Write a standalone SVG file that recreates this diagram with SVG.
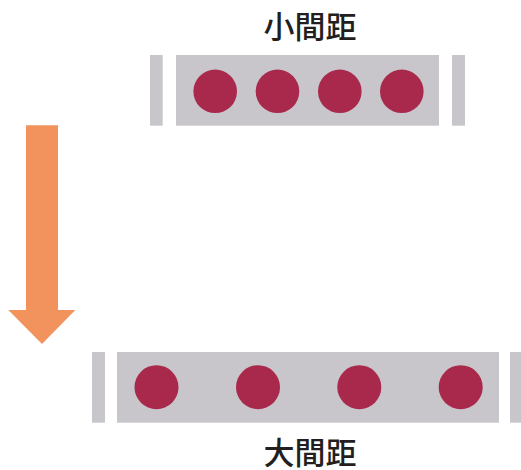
<svg xmlns="http://www.w3.org/2000/svg" width="521" height="470" viewBox="0 0 521 470">
<style>
.bar{fill:#c8c6cb}
.dot{fill:#a8294c}
.lbl{font-family:"Noto Sans CJK TC","Noto Sans CJK SC",sans-serif;font-size:31px;font-weight:500;fill:#231f20;text-anchor:middle}
</style>
<rect width="521" height="470" fill="#ffffff"/>
<g id="small-spacing">
<text class="lbl" x="310" y="38">小間距</text>
<rect class="bar" x="150" y="55" width="12.7" height="70.7"/>
<rect class="bar" x="176" y="55" width="263" height="70.7"/>
<rect class="bar" x="452" y="55" width="13" height="70.7"/>
<circle class="dot" cx="215.2" cy="91.3" r="21.8"/>
<circle class="dot" cx="277.5" cy="91.3" r="21.8"/>
<circle class="dot" cx="339.8" cy="91.3" r="21.8"/>
<circle class="dot" cx="401.8" cy="91.3" r="21.8"/>
</g>
<g id="connectors">
<polygon fill="#f2935e" points="26,125.3 58,125.3 58,310 75.3,310 42,344 8.3,310 26,310"/>
</g>
<g id="large-spacing">
<rect class="bar" x="92" y="352" width="13" height="70.7"/>
<rect class="bar" x="117" y="352" width="382" height="70.7"/>
<rect class="bar" x="510" y="352" width="13" height="70.7"/>
<circle class="dot" cx="156.5" cy="387.2" r="22"/>
<circle class="dot" cx="258" cy="387.2" r="22"/>
<circle class="dot" cx="359.3" cy="387.2" r="22"/>
<circle class="dot" cx="460.7" cy="387.2" r="22"/>
<text class="lbl" x="310" y="464">大間距</text>
</g>
</svg>
